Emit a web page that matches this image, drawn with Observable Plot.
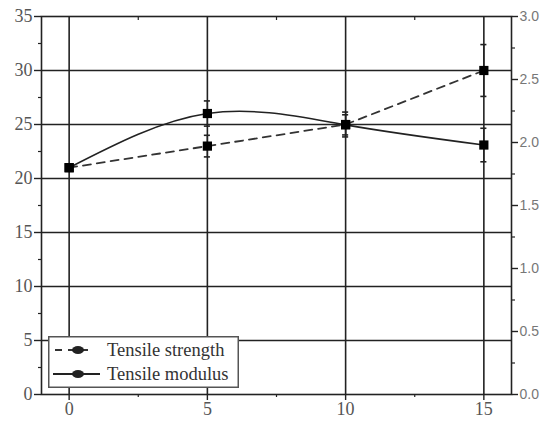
<!DOCTYPE html>
<html>
<head>
<meta charset="utf-8">
<script src="https://cdn.jsdelivr.net/npm/d3@7"></script>
<script src="https://cdn.jsdelivr.net/npm/@observablehq/plot@0.6"></script>
<style>
  html, body { margin: 0; padding: 0; background: #fff; }
  #wrap { position: relative; width: 547px; height: 423px; }
  #legend { position: absolute; left: 48px; top: 336px; }
</style>
</head>
<body>
<div id="wrap"></div>
<script>
// ---- data ----
const loading = [0, 5, 10, 15];
const strength = [21, 23, 25, 30];          // left axis
const strengthErr = [0, 1.0, 1.15, 2.4];
const modulus = [1.80, 2.23, 2.14, 1.98];   // right axis
const modulusErr = [0, 0.10, 0.08, 0.133];
const leftTicks = [0, 5, 10, 15, 20, 25, 30, 35];
const leftMinor = [2.5, 7.5, 12.5, 17.5, 22.5, 27.5, 32.5];
const rightTicks = [0, 0.5, 1.0, 1.5, 2.0, 2.5, 3.0];
const rightMinor = [0.25, 0.75, 1.25, 1.75, 2.25, 2.75];
const xTicks = [0, 5, 10, 15];
const xMinor = [2.5, 7.5, 12.5];
const gridY = [5, 10, 15, 20, 25, 30];
const seriesNames = ["Tensile strength", "Tensile modulus"];

const leftMax = 35, rightMax = 3.0;
const toLeft = v => v * leftMax / rightMax;

const sData = loading.map((x, i) => ({x, y: strength[i], e: strengthErr[i]}));
const mData = loading.map((x, i) => ({x, y: toLeft(modulus[i]), e: toLeft(modulusErr[i])}));
const capHalf = 0.11;
const ink = "#222";
const serif = "'Liberation Serif', 'DejaVu Serif', serif";
const sans = "'Liberation Sans', Arial, sans-serif";

const chart = Plot.plot({
  width: 547,
  height: 423,
  marginLeft: 41,
  marginRight: 36,
  marginTop: 16,
  marginBottom: 29,
  x: {domain: [-1, 16], label: null},
  y: {domain: [0, 35], label: null},
  style: {background: "#fff"},
  marks: [
    Plot.ruleY(gridY, {stroke: ink, strokeWidth: 1.6}),
    Plot.ruleX(xTicks, {stroke: ink, strokeWidth: 1.6}),
    Plot.frame({stroke: ink, strokeWidth: 1.6}),
    // left axis
    Plot.axisY({ticks: leftTicks, tickSize: 7, tickPadding: 2, stroke: ink, strokeWidth: 1.4,
      fill: "#555", fontSize: 18, tickFormat: d => String(d)}),
    Plot.axisY({ticks: leftMinor, tickSize: 3, stroke: ink, strokeWidth: 1.2, tickFormat: () => ""}),
    // right axis
    Plot.axisY({anchor: "right", ticks: rightTicks.map(toLeft), tickSize: 6, tickPadding: 2,
      stroke: ink, strokeWidth: 1.4, fill: "#777", fontSize: 14,
      tickFormat: d => (d * rightMax / leftMax).toFixed(1)}),
    Plot.axisY({anchor: "right", ticks: rightMinor.map(toLeft), tickSize: 3, stroke: ink, strokeWidth: 1.2, tickFormat: () => ""}),
    // bottom axis
    Plot.axisX({ticks: xTicks, tickSize: 6, tickPadding: 2, stroke: ink, strokeWidth: 1.4,
      fill: "#555", fontSize: 18, tickFormat: d => String(d)}),
    Plot.axisX({ticks: xMinor, tickSize: 3, stroke: ink, strokeWidth: 1.2, tickFormat: () => ""}),
    Plot.axisX({anchor: "top", ticks: xMinor, tickSize: -3, stroke: ink, strokeWidth: 1.2, tickFormat: () => ""}),
    // error bars
    Plot.ruleX(sData.filter(d => d.e > 0), {x: "x", y1: d => d.y - d.e, y2: d => d.y + d.e, stroke: ink, strokeWidth: 1.4}),
    Plot.ruleY(sData.filter(d => d.e > 0), {y: d => d.y + d.e, x1: d => d.x - capHalf, x2: d => d.x + capHalf, stroke: ink, strokeWidth: 1.6}),
    Plot.ruleY(sData.filter(d => d.e > 0), {y: d => d.y - d.e, x1: d => d.x - capHalf, x2: d => d.x + capHalf, stroke: ink, strokeWidth: 1.6}),
    Plot.ruleX(mData.filter(d => d.e > 0), {x: "x", y1: d => d.y - d.e, y2: d => d.y + d.e, stroke: ink, strokeWidth: 1.4}),
    Plot.ruleY(mData.filter(d => d.e > 0), {y: d => d.y + d.e, x1: d => d.x - capHalf, x2: d => d.x + capHalf, stroke: ink, strokeWidth: 1.6}),
    Plot.ruleY(mData.filter(d => d.e > 0), {y: d => d.y - d.e, x1: d => d.x - capHalf, x2: d => d.x + capHalf, stroke: ink, strokeWidth: 1.6}),
    // lines
    Plot.line(sData, {x: "x", y: "y", stroke: "#333", strokeWidth: 1.8, strokeDasharray: "8,6"}),
    Plot.line(mData, {x: "x", y: "y", stroke: "#222", strokeWidth: 1.6, curve: "natural"}),
    // markers
    Plot.dot(sData, {x: "x", y: "y", symbol: "square", r: 5.2, fill: "#000", stroke: "none"}),
    Plot.dot(mData, {x: "x", y: "y", symbol: "square", r: 5.2, fill: "#000", stroke: "none"})
  ]
});

// fonts: serif for left and bottom tick labels, sans for right
d3.select(chart).selectAll('g[aria-label="y-axis tick label"], g[aria-label="x-axis tick label"]')
  .each(function() {
    const g = d3.select(this);
    const anchor = g.attr("text-anchor");
    g.attr("font-family", anchor === "start" ? sans : serif);
  });

const wrap = document.getElementById("wrap");
wrap.appendChild(chart);

// legend (inside plot area, with white background)
const ns = "http://www.w3.org/2000/svg";
const lg = document.createElementNS(ns, "svg");
lg.setAttribute("id", "legend");
lg.setAttribute("width", 192);
lg.setAttribute("height", 53);
const mk = (tag, attrs, parent) => {
  const el = document.createElementNS(ns, tag);
  for (const k in attrs) el.setAttribute(k, attrs[k]);
  (parent || lg).appendChild(el);
  return el;
};
mk("rect", {x: 0.75, y: 0.75, width: 189.5, height: 50.5, fill: "#fff", stroke: "#555", "stroke-width": 1.5});
// dashed entry
mk("line", {x1: 7, x2: 42, y1: 14, y2: 14, stroke: "#333", "stroke-width": 1.8, "stroke-dasharray": "7,6"});
mk("ellipse", {cx: 30, cy: 14, rx: 6, ry: 4, fill: "#222"});
// solid entry
mk("line", {x1: 5, x2: 52, y1: 38, y2: 38, stroke: "#222", "stroke-width": 1.8});
mk("ellipse", {cx: 30, cy: 38, rx: 6, ry: 4, fill: "#222"});
seriesNames.forEach((name, i) => {
  const t = mk("text", {x: 59, y: 20 + i * 24, fill: "#333", "font-size": 18.5, "font-family": serif});
  t.textContent = name;
});
wrap.appendChild(lg);
</script>
</body>
</html>
